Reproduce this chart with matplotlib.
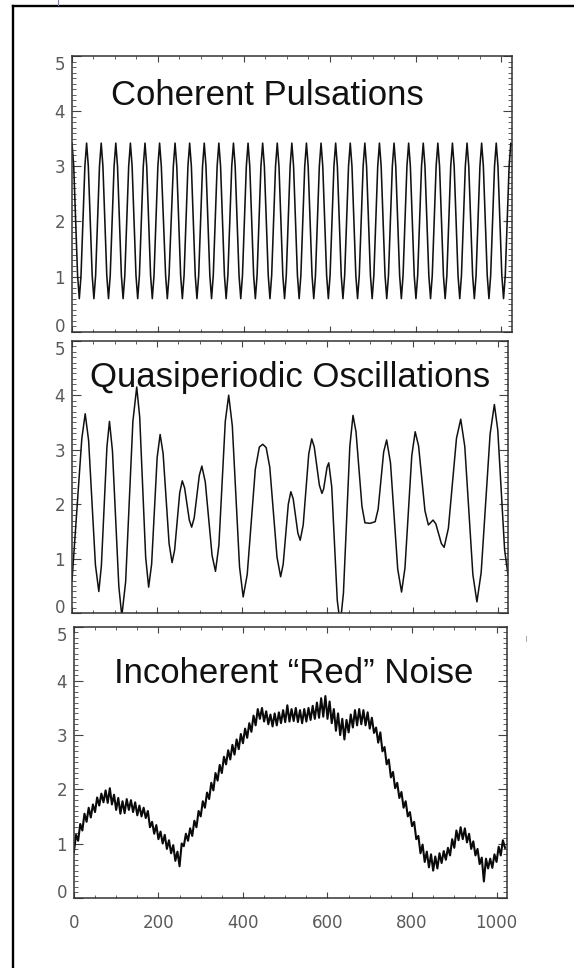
import numpy as np
import matplotlib
matplotlib.use("Agg")
import matplotlib.pyplot as plt
from matplotlib.lines import Line2D
from matplotlib.ticker import MultipleLocator

W, H = 574, 968

# Coherent pulsations: peaks, troughs and their shoulders
pulse_x = [0, 4, 13, 17, 21,
           30, 34, 38, 47, 51, 55,
           64, 68, 72, 81, 85, 89,
           98, 102, 106, 115, 119, 123,
           132, 136, 140, 149, 153, 157,
           166, 170, 174, 183, 187, 191,
           200, 204, 208, 218, 222, 226,
           236, 240, 244, 253, 257, 261,
           270, 274, 278, 287, 291, 295,
           304, 308, 312, 321, 325, 329,
           338, 342, 346, 355, 359, 363,
           372, 376, 380, 389, 393, 397,
           406, 410, 414, 423, 427, 431,
           440, 444, 448, 457, 461, 465,
           474, 478, 482, 491, 495, 499,
           508, 512, 516, 525, 529, 533,
           542, 546, 550, 559, 563, 567,
           576, 580, 584, 593, 597, 601,
           610, 614, 618, 627, 631, 635,
           644, 648, 652, 661, 665, 669,
           678, 682, 686, 695, 699, 703,
           712, 716, 720, 729, 733, 737,
           746, 750, 754, 763, 767, 771,
           780, 784, 788, 797, 801, 805,
           814, 818, 822, 831, 835, 839,
           848, 852, 856, 865, 869, 873,
           882, 886, 890, 899, 903, 907,
           916, 920, 924, 933, 937, 941,
           950, 954, 958, 967, 971, 975,
           984, 988, 992, 1001, 1005, 1009,
           1018, 1022, 1024]
pulse_y = [3.42, 3.00, 1.02, 0.60, 1.02,
           3.00, 3.42, 3.00, 1.02, 0.60, 1.02,
           3.00, 3.42, 3.00, 1.02, 0.60, 1.02,
           3.00, 3.42, 3.00, 1.02, 0.60, 1.02,
           3.00, 3.42, 3.00, 1.02, 0.60, 1.02,
           3.00, 3.42, 3.00, 1.02, 0.60, 1.02,
           3.00, 3.42, 3.00, 1.02, 0.60, 1.02,
           3.00, 3.42, 3.00, 1.02, 0.60, 1.02,
           3.00, 3.42, 3.00, 1.02, 0.60, 1.02,
           3.00, 3.42, 3.00, 1.02, 0.60, 1.02,
           3.00, 3.42, 3.00, 1.02, 0.60, 1.02,
           3.00, 3.42, 3.00, 1.02, 0.60, 1.02,
           3.00, 3.42, 3.00, 1.02, 0.60, 1.02,
           3.00, 3.42, 3.00, 1.02, 0.60, 1.02,
           3.00, 3.42, 3.00, 1.02, 0.60, 1.02,
           3.00, 3.42, 3.00, 1.02, 0.60, 1.02,
           3.00, 3.42, 3.00, 1.02, 0.60, 1.02,
           3.00, 3.42, 3.00, 1.02, 0.60, 1.02,
           3.00, 3.42, 3.00, 1.02, 0.60, 1.02,
           3.00, 3.42, 3.00, 1.02, 0.60, 1.02,
           3.00, 3.42, 3.00, 1.02, 0.60, 1.02,
           3.00, 3.42, 3.00, 1.02, 0.60, 1.02,
           3.00, 3.42, 3.00, 1.02, 0.60, 1.02,
           3.00, 3.42, 3.00, 1.02, 0.60, 1.02,
           3.00, 3.42, 3.00, 1.02, 0.60, 1.02,
           3.00, 3.42, 3.00, 1.02, 0.60, 1.02,
           3.00, 3.42, 3.00, 1.02, 0.60, 1.02,
           3.00, 3.42, 3.00, 1.02, 0.60, 1.02,
           3.00, 3.42, 3.00, 1.02, 0.60, 1.02,
           3.00, 3.42, 3.00, 1.02, 0.60, 1.02,
           3.00, 3.42, 3.38]

# Quasiperiodic oscillations: turning points plus shoulder readings
qpo_x = [0, 23, 31, 39, 55, 63, 69, 82, 88, 95, 110, 117, 126, 143, 152, 159, 173, 180,
         187, 200, 207, 214, 228, 235, 241, 253, 259, 264.5, 275.5, 281, 287, 299, 305,
         313, 329, 337, 345, 360, 368, 376.5, 393.5, 402, 411.5, 430.5, 440, 448, 456,
         464.5, 481.5, 490, 496, 508, 514, 519.5, 530.5, 536, 543, 556, 563, 569, 581,
         587, 591, 599, 603, 610, 623, 630, 637.5, 652.5, 660, 667, 681, 688, 700, 712,
         719, 732, 739, 748, 765, 774, 782, 798, 806, 814, 829, 837, 848, 854.5, 867.5,
         874, 884, 903, 913, 922.5, 941.5, 951, 961, 982, 992, 1000, 1016, 1024]
qpo_y = [0.60, 3.20, 3.66, 3.17, 0.89, 0.40, 0.87, 3.05, 3.52, 2.98, 0.49, -0.05, 0.58,
         3.52, 4.15, 3.60, 1.03, 0.48, 0.90, 2.86, 3.28, 2.93, 1.28, 0.93, 1.16, 2.21,
         2.43, 2.30, 1.71, 1.58, 1.75, 2.53, 2.70, 2.41, 1.06, 0.77, 1.25, 3.52, 4.00,
         3.44, 0.85, 0.30, 0.71, 2.64, 3.05, 3.10, 3.04, 2.68, 1.03, 0.67, 0.90, 2.00,
         2.23, 2.10, 1.47, 1.34, 1.62, 2.92, 3.20, 3.05, 2.35, 2.20, 2.28, 2.68, 2.76,
         2.32, 0.24, -0.20, 0.37, 3.06, 3.63, 3.33, 1.96, 1.66, 1.65, 1.68, 1.91, 2.96,
         3.18, 2.76, 0.81, 0.39, 0.83, 2.89, 3.33, 3.07, 1.88, 1.62, 1.71, 1.64, 1.28,
         1.21, 1.56, 3.21, 3.56, 3.06, 0.71, 0.21, 0.75, 3.29, 3.83, 3.36, 1.17, 0.70]

# Red noise: one reading every 5 time units
noise_x = np.arange(0, 1021, 5)
noise_y = [0.84, 1.16, 1.05, 1.36, 1.24, 1.55, 1.40, 1.66, 1.48, 1.72,
           1.58, 1.85, 1.70, 1.92, 1.76, 1.98, 1.75, 2.02, 1.72, 1.90,
           1.62, 1.84, 1.55, 1.78, 1.56, 1.82, 1.62, 1.80, 1.58, 1.76,
           1.52, 1.70, 1.50, 1.66, 1.47, 1.60, 1.30, 1.40, 1.18, 1.34,
           1.08, 1.22, 1.00, 1.16, 0.90, 1.06, 0.82, 0.97, 0.68, 0.85,
           0.58, 1.00, 0.95, 1.18, 1.05, 1.28, 1.14, 1.42, 1.30, 1.60,
           1.50, 1.78, 1.66, 1.94, 1.82, 2.12, 1.98, 2.30, 2.16, 2.45,
           2.30, 2.60, 2.46, 2.72, 2.55, 2.82, 2.64, 2.92, 2.74, 3.02,
           2.85, 3.12, 2.95, 3.22, 3.06, 3.36, 3.18, 3.48, 3.30, 3.50,
           3.25, 3.44, 3.20, 3.38, 3.16, 3.40, 3.18, 3.42, 3.22, 3.46,
           3.24, 3.55, 3.25, 3.48, 3.26, 3.50, 3.24, 3.46, 3.22, 3.48,
           3.25, 3.50, 3.28, 3.54, 3.30, 3.60, 3.32, 3.68, 3.34, 3.72,
           3.30, 3.62, 3.22, 3.48, 3.08, 3.40, 3.00, 3.30, 2.92, 3.28,
           3.05, 3.38, 3.14, 3.46, 3.18, 3.48, 3.20, 3.46, 3.18, 3.42,
           3.12, 3.32, 3.04, 3.14, 2.86, 3.05, 2.70, 2.78, 2.46, 2.55,
           2.22, 2.32, 2.02, 2.12, 1.84, 1.95, 1.66, 1.78, 1.50, 1.58,
           1.32, 1.40, 1.08, 1.14, 0.82, 0.98, 0.66, 0.85, 0.56, 0.80,
           0.50, 0.76, 0.54, 0.82, 0.64, 0.86, 0.70, 0.92, 0.78, 1.08,
           0.92, 1.24, 1.06, 1.30, 1.08, 1.28, 1.02, 1.18, 0.90, 1.04,
           0.78, 0.90, 0.62, 0.74, 0.30, 0.72, 0.54, 0.72, 0.55, 0.80,
           0.66, 0.94, 0.78, 1.06, 0.92]

titles = ["Coherent Pulsations", "Quasiperiodic Oscillations",
          "Incoherent \u201cRed\u201d Noise"]
y_ticks = [0, 1, 2, 3, 4, 5]
x_ticks = [0, 200, 400, 600, 800, 1000]


def fx(px):
    return px / W


def fy(py):
    return 1 - py / H


def make_axes(fig, left, right, top, bottom):
    return fig.add_axes([fx(left), fy(bottom), (right - left) / W, (bottom - top) / H])


def style_axes(ax, show_x):
    ax.set_xlim(0, 1024)
    ax.set_ylim(0, 5)
    ax.set_xticks(x_ticks)
    ax.xaxis.set_minor_locator(MultipleLocator(50))
    ax.set_yticks(y_ticks)
    ax.set_yticklabels([str(v) for v in y_ticks])
    ax.yaxis.set_minor_locator(MultipleLocator(0.1))
    ax.tick_params(which="both", direction="in", top=True, right=True,
                   color="#444444", labelcolor="#5a5a5a", labelsize=12)
    ax.tick_params(axis="y", which="major", length=6.3, width=0.8, pad=5)
    ax.tick_params(axis="y", which="minor", length=3.2, width=0.6)
    ax.tick_params(axis="x", which="major", length=4, width=0.8, pad=12)
    ax.tick_params(axis="x", which="minor", length=2, width=0.6)
    if show_x:
        ax.set_xticklabels([str(v) for v in x_ticks])
    else:
        ax.set_xticklabels([])
    for s in ax.spines.values():
        s.set_linewidth(1.1)
        s.set_color("#333333")
    # IDL-style: end labels pulled inside the axis range
    ticks = ax.yaxis.get_major_ticks()
    ticks[0].label1.set_va("baseline")
    ticks[-1].label1.set_va("top")
    for lab in ax.get_yticklabels() + ax.get_xticklabels():
        lab.set_family("DejaVu Sans")


fig = plt.figure(figsize=(W / 100, H / 100), dpi=100)

ax1 = make_axes(fig, 72, 511.7, 56, 331.7)
ax2 = make_axes(fig, 72, 508, 340.7, 613.3)
ax3 = make_axes(fig, 73.9, 506.7, 626.7, 897.7)

ax1.plot(pulse_x, pulse_y, color="#111111", lw=1.15)
ax2.plot(qpo_x, qpo_y, color="#111111", lw=1.1)
ax3.plot(noise_x, noise_y, color="#0a0a0a", lw=1.5)

for ax, show in [(ax1, False), (ax2, False), (ax3, True)]:
    style_axes(ax, show)

# titles, placed by their left edge and baseline (pixels)
title_pos = [(111.5, 105), (90, 387.3), (114, 682.7)]
for t, (px, py) in zip(titles, title_pos):
    fig.text(fx(px), fy(py), t, fontsize=25, family="Liberation Sans",
             color="#111111", ha="left", va="baseline")

# outer frame (only top and left edges are inside the image)
fig.add_artist(Line2D([fx(12.7), fx(W)], [fy(5.7), fy(5.7)], color="black", lw=1.7))
fig.add_artist(Line2D([fx(12.7), fx(12.7)], [fy(5.7), fy(H)], color="black", lw=1.7))
fig.add_artist(Line2D([fx(58), fx(58)], [fy(0), fy(5)], color="#7a7a9a", lw=0.8))
fig.add_artist(Line2D([fx(526), fx(526)], [fy(636), fy(641)], color="#999999", lw=0.6))

fig.savefig("out.png", dpi=100)
